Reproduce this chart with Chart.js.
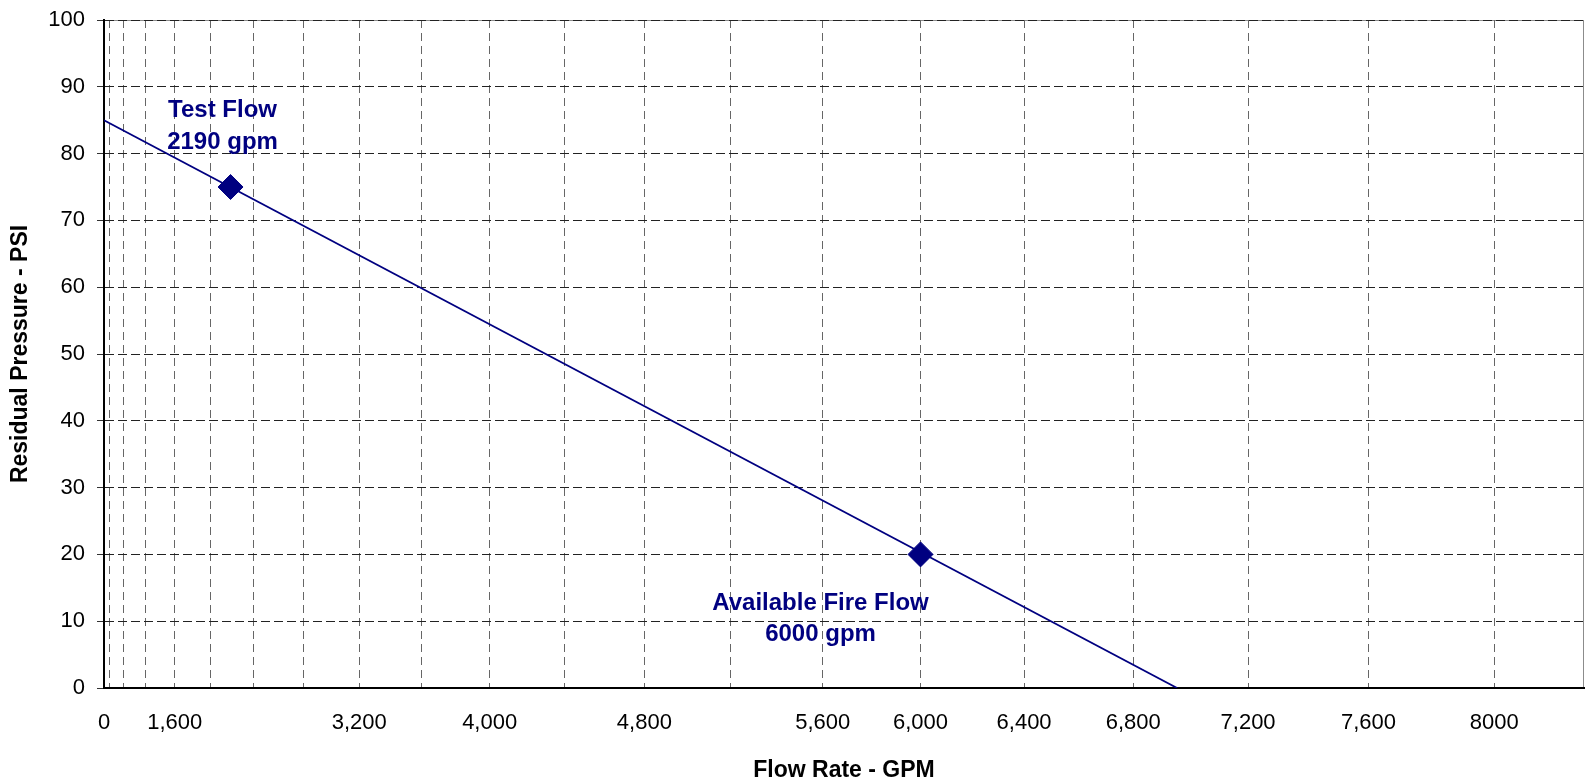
<!DOCTYPE html>
<html>
<head>
<meta charset="utf-8">
<title>Hydrant Flow Test</title>
<script src="https://cdn.jsdelivr.net/npm/chart.js@4.4.1/dist/chart.umd.min.js"></script>
<style>
  html, body { margin: 0; padding: 0; background: #fff; }
  #wrap { width: 1585px; height: 784px; position: relative; }
</style>
</head>
<body>
<div id="wrap"><canvas id="flowChart"></canvas></div>
<script>
// supply curve: static pressure at no flow, down to zero pressure
let lineFlows = [0, 6955];
let linePressures = [85, 0];

// measured test flow and available flow at 20 psi
let markerFlows = [2190, 6000];
let markerPressures = [75, 20];
let markerNotes = [["Test Flow", "2190 gpm"], ["Available Fire Flow", "6000 gpm"]];

// x axis (N^1.85 paper): grid every 400 gpm, labels only on some
let labeledFlows = [0, 1600, 3200, 4000, 4800, 5600, 6000, 6400, 6800, 7200, 7600, 8000];
let labeledFlowText = ["0", "1,600", "3,200", "4,000", "4,800", "5,600", "6,000", "6,400", "6,800", "7,200", "7,600", "8000"];
let gridStep = 400;
let gridLastFlow = 8000;
let flowMax = 8275;

let navy = "#000080";
let fontFace = "'Liberation Sans', Arial, sans-serif";

// linear scale whose pixel position goes with Q^1.85
class FlowPowerScale extends Chart.LinearScale {
  getPixelForValue(value) {
    let v = Math.max(value, 0);
    return this.getPixelForDecimal(Math.pow(v / this.max, 1.85));
  }
  getValueForPixel(pixel) {
    return this.max * Math.pow(this.getDecimalForPixel(pixel), 1 / 1.85);
  }
}
FlowPowerScale.id = "flowPower";
FlowPowerScale.defaults = Chart.LinearScale.defaults;
Chart.register(FlowPowerScale);

// grey frame round the plot area, under the grid
const plotFrame = {
  id: "plotFrame",
  beforeDraw(chart) {
    let a = chart.chartArea;
    let ctx = chart.ctx;
    ctx.save();
    ctx.strokeStyle = "#8c8c8c";
    ctx.lineWidth = 1;
    ctx.strokeRect(a.left + 0.5, a.top + 0.5, a.right - a.left - 1, a.bottom - a.top);
    ctx.restore();
  }
};

// the two text notes next to the markers
const markerText = {
  id: "markerText",
  afterDatasetsDraw(chart, args, opts) {
    let meta = chart.getDatasetMeta(1);
    let ctx = chart.ctx;
    ctx.save();
    ctx.fillStyle = navy;
    ctx.font = "bold 24px " + fontFace;
    ctx.textAlign = "center";
    ctx.textBaseline = "middle";
    meta.data.forEach((pt, i) => {
      let off = opts.offsets[i];
      markerNotes[i].forEach((line, j) => {
        ctx.fillText(line, pt.x + off.dx, pt.y + off.dy[j]);
      });
    });
    ctx.restore();
  }
};

let flowTicks = [];
for (let q = 0; q <= gridLastFlow; q += gridStep) {
  flowTicks.push({ value: q });
}

const ctx = document.getElementById("flowChart");

new Chart(ctx, {
  type: "line",
  data: {
    datasets: [
      {
        label: "Supply curve",
        data: lineFlows.map((q, i) => ({ x: q, y: linePressures[i] })),
        borderColor: navy,
        borderWidth: 1.8,
        pointRadius: 0,
        fill: false,
        tension: 0
      },
      {
        label: "Flow points",
        data: markerFlows.map((q, i) => ({ x: q, y: markerPressures[i] })),
        showLine: false,
        pointStyle: "rectRot",
        pointRadius: 12.5,
        pointBackgroundColor: navy,
        pointBorderColor: navy,
        pointBorderWidth: 1
      }
    ]
  },
  options: {
    responsive: true,
    maintainAspectRatio: false,
    animation: false,
    layout: { autoPadding: false, padding: { top: 20, right: 1, left: 0, bottom: 0 } },
    plugins: {
      legend: { display: false },
      tooltip: { enabled: false },
      markerText: {
        offsets: [
          { dx: -8, dy: [-77, -45] },
          { dx: -100, dy: [49, 80] }
        ]
      }
    },
    scales: {
      x: {
        type: "flowPower",
        min: 0,
        max: flowMax,
        afterBuildTicks: (scale) => {
          scale.ticks = flowTicks.map((t) => ({ value: t.value }));
        },
        afterFit: (scale) => {
          scale.height = 96;
          scale.paddingLeft = 0;
          scale.paddingRight = 0;
        },
        ticks: {
          autoSkip: false,
          maxRotation: 0,
          padding: 22,
          color: "#000",
          font: { family: fontFace, size: 22 },
          callback: (value) => {
            let k = labeledFlows.indexOf(value);
            return k >= 0 ? labeledFlowText[k] : "";
          }
        },
        grid: {
          color: "#666",
          lineWidth: 1,
          drawTicks: false
        },
        border: { display: true, color: "#000", width: 2, dash: [8, 5] },
        title: {
          display: true,
          text: "Flow Rate - GPM",
          color: "#000",
          font: { family: fontFace, size: 23, weight: "bold" },
          padding: { top: 0, bottom: 0 }
        }
      },
      y: {
        min: 0,
        max: 100,
        afterFit: (scale) => {
          scale.width = 104;
          scale.paddingTop = 0;
          scale.paddingBottom = 0;
        },
        ticks: {
          stepSize: 10,
          padding: 12,
          color: "#000",
          font: { family: fontFace, size: 22 }
        },
        grid: {
          color: "#222",
          lineWidth: 1,
          tickLength: 7,
          tickColor: "#333",
          tickBorderDash: []
        },
        border: { display: true, color: "#000", width: 2, dash: [9, 4] },
        title: {
          display: true,
          text: "Residual Pressure - PSI",
          color: "#000",
          font: { family: fontFace, size: 23, weight: "bold" },
          padding: { top: 7, bottom: 0 }
        }
      }
    }
  },
  plugins: [plotFrame, markerText]
});
</script>
</body>
</html>
